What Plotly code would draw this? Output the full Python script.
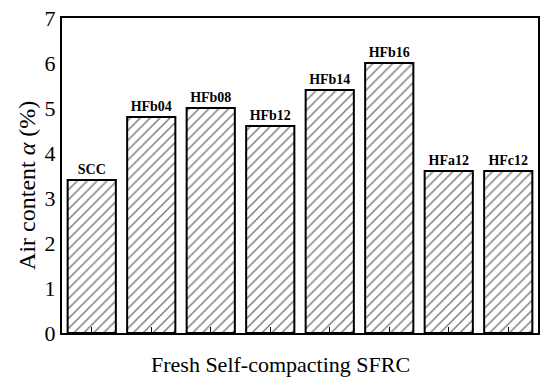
import plotly.graph_objects as go

categories = ["SCC", "HFb04", "HFb08", "HFb12", "HFb14", "HFb16", "HFa12", "HFc12"]
air_content = [3.4, 4.8, 5.0, 4.6, 5.4, 6.0, 3.6, 3.6]
y_ticks = [0, 1, 2, 3, 4, 5, 6, 7]

SERIF = "Liberation Serif, Times New Roman, serif"

fig = go.Figure()
fig.add_trace(go.Bar(
    x=list(range(len(categories))),
    y=air_content,
    text=categories,
    texttemplate="<b>%{text}</b>",
    textposition="outside",
    cliponaxis=False,
    textfont=dict(family=SERIF, size=14, color="black"),
    width=0.81,
    marker=dict(
        color="white",
        line=dict(color="black", width=2),
        pattern=dict(shape="/", size=7, solidity=0.22, fgcolor="black", bgcolor="white"),
    ),
))

fig.update_layout(
    width=550, height=382,
    margin=dict(l=62, r=12, t=18, b=49),
    paper_bgcolor="white", plot_bgcolor="white",
    showlegend=False,
    font=dict(family=SERIF, color="black"),
    uniformtext=dict(mode=False),
    annotations=[
        dict(text="Fresh Self-compacting SFRC", xref="paper", yref="paper",
             x=0.458, y=-0.10, xanchor="center", yanchor="middle", showarrow=False,
             font=dict(family=SERIF, size=22, color="black")),
        dict(text="Air content <i>α</i> (%)", xref="paper", yref="paper",
             x=-0.0735, y=0.467, xanchor="center", yanchor="middle", showarrow=False,
             textangle=-90, font=dict(family=SERIF, size=24, color="black")),
    ],
)
fig.update_xaxes(
    range=[-0.5, 7.5],
    tickvals=list(range(len(categories))),
    ticktext=[""] * len(categories),
    ticks="inside", ticklen=6, tickwidth=1, tickcolor="black",
    showline=True, linecolor="black", linewidth=2, mirror=True,
    showgrid=False, zeroline=False, automargin=False,
    layer="above traces",
)
fig.update_yaxes(
    range=[0, 7],
    tickvals=y_ticks,
    ticks="inside", ticklen=0, tickwidth=1, tickcolor="black",
    tickfont=dict(family=SERIF, size=22),
    showline=True, linecolor="black", linewidth=2, mirror=True,
    showgrid=False, zeroline=False, automargin=False,
    layer="above traces",
)

fig.write_html("out.html", config={"displayModeBar": False},
               post_script="document.body.style.margin='0';")
